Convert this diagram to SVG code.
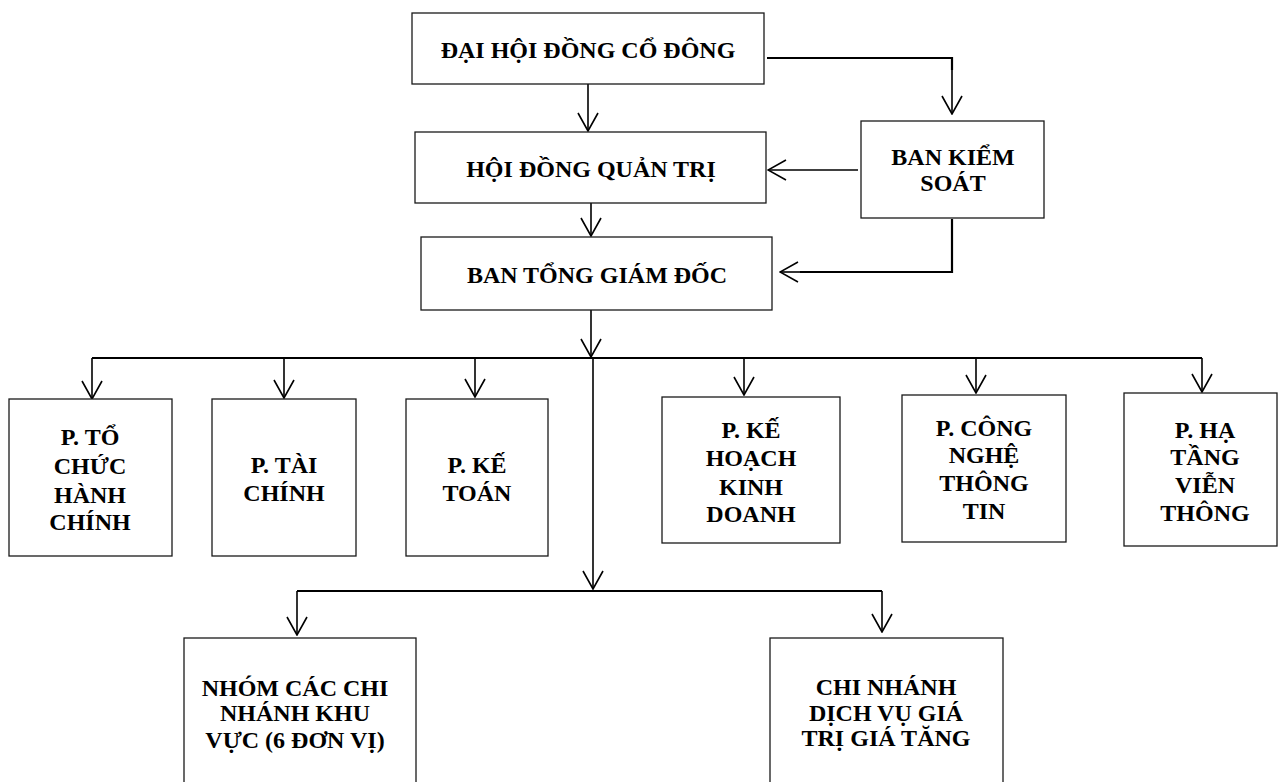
<svg xmlns="http://www.w3.org/2000/svg" width="1279" height="782" viewBox="0 0 1279 782">
<style>
.box{fill:#ffffff;stroke:#1a1a1a;stroke-width:1.3}
.t{font-family:"Liberation Serif","Times New Roman",serif;font-weight:bold;font-size:24px;fill:#000;text-anchor:middle}
.c{fill:none;stroke:#000;stroke-width:1.6}
.b{fill:none;stroke:#000;stroke-width:2.2}
</style>
<defs>
<marker id="arr" markerUnits="userSpaceOnUse" viewBox="0 0 20 22" markerWidth="20" markerHeight="22" refX="19" refY="11" orient="auto">
<path d="M1,1 L19,11 L1,21" fill="none" stroke="#000" stroke-width="1.6"/>
</marker>
</defs>
<rect width="1279" height="782" fill="#ffffff"/>

<g id="connectors">
<path class="c" d="M588,84 V131" marker-end="url(#arr)"/>
<path class="c" d="M591,203 V236" marker-end="url(#arr)"/>
<path class="b" d="M767,58 H952 V70"/>
<path class="c" d="M952,69 V114" marker-end="url(#arr)"/>
<path class="c" d="M858,170 H768" marker-end="url(#arr)"/>
<path class="b" d="M952,219 V272 H800"/>
<path class="c" d="M802,272 H780" marker-end="url(#arr)"/>
<path class="c" d="M591,310 V357" marker-end="url(#arr)"/>
<path class="b" d="M92,358 H1202"/>
<path class="c" d="M92,358 V399" marker-end="url(#arr)"/>
<path class="c" d="M284,358 V398" marker-end="url(#arr)"/>
<path class="c" d="M475,358 V397" marker-end="url(#arr)"/>
<path class="c" d="M744,358 V395" marker-end="url(#arr)"/>
<path class="c" d="M976,358 V393" marker-end="url(#arr)"/>
<path class="c" d="M1202,358 V392" marker-end="url(#arr)"/>
<path class="c" d="M593,358 V589" marker-end="url(#arr)"/>
<path class="b" d="M297,591 H882"/>
<path class="c" d="M297,591 V635" marker-end="url(#arr)"/>
<path class="c" d="M882,591 V632" marker-end="url(#arr)"/>
</g>

<g id="dai-hoi-dong-co-dong">
<rect class="box" x="412" y="13" width="352" height="71"/>
<text class="t" x="588" y="58">ĐẠI HỘI ĐỒNG CỔ ĐÔNG</text>
</g>
<g id="hoi-dong-quan-tri">
<rect class="box" x="415" y="132" width="351" height="71"/>
<text class="t" x="591" y="177">HỘI ĐỒNG QUẢN TRỊ</text>
</g>
<g id="ban-tong-giam-doc">
<rect class="box" x="421" y="237" width="351" height="73"/>
<text class="t" x="597" y="283">BAN TỔNG GIÁM ĐỐC</text>
</g>
<g id="ban-kiem-soat">
<rect class="box" x="861" y="121" width="183" height="97"/>
<text class="t" x="953" y="165">BAN KIỂM</text>
<text class="t" x="953" y="191">SOÁT</text>
</g>

<g id="p-to-chuc-hanh-chinh">
<rect class="box" x="9" y="399" width="163" height="157"/>
<text class="t" x="90" y="445">P. TỔ</text>
<text class="t" x="90" y="474">CHỨC</text>
<text class="t" x="90" y="503">HÀNH</text>
<text class="t" x="90" y="530">CHÍNH</text>
</g>
<g id="p-tai-chinh">
<rect class="box" x="212" y="399" width="144" height="157"/>
<text class="t" x="284" y="473">P. TÀI</text>
<text class="t" x="284" y="501">CHÍNH</text>
</g>
<g id="p-ke-toan">
<rect class="box" x="406" y="399" width="142" height="157"/>
<text class="t" x="477" y="473">P. KẾ</text>
<text class="t" x="477" y="501">TOÁN</text>
</g>
<g id="p-ke-hoach-kinh-doanh">
<rect class="box" x="662" y="397" width="178" height="146"/>
<text class="t" x="751" y="438">P. KẾ</text>
<text class="t" x="751" y="466">HOẠCH</text>
<text class="t" x="751" y="495">KINH</text>
<text class="t" x="751" y="522">DOANH</text>
</g>
<g id="p-cong-nghe-thong-tin">
<rect class="box" x="902" y="395" width="164" height="147"/>
<text class="t" x="984" y="436">P. CÔNG</text>
<text class="t" x="984" y="463">NGHỆ</text>
<text class="t" x="984" y="491">THÔNG</text>
<text class="t" x="984" y="519">TIN</text>
</g>
<g id="p-ha-tang-vien-thong">
<rect class="box" x="1124" y="393" width="153" height="153"/>
<text class="t" x="1205" y="438">P. HẠ</text>
<text class="t" x="1205" y="465">TẦNG</text>
<text class="t" x="1205" y="493">VIỄN</text>
<text class="t" x="1205" y="521">THÔNG</text>
</g>

<g id="nhom-cac-chi-nhanh">
<rect class="box" x="184" y="638" width="232" height="170"/>
<text class="t" x="295" y="696">NHÓM CÁC CHI</text>
<text class="t" x="295" y="721">NHÁNH KHU</text>
<text class="t" x="295" y="748">VỰC (6 ĐƠN VỊ)</text>
</g>
<g id="chi-nhanh-dich-vu">
<rect class="box" x="770" y="638" width="233" height="170"/>
<text class="t" x="886" y="695">CHI NHÁNH</text>
<text class="t" x="886" y="721">DỊCH VỤ GIÁ</text>
<text class="t" x="886" y="746">TRỊ GIÁ TĂNG</text>
</g>
</svg>
